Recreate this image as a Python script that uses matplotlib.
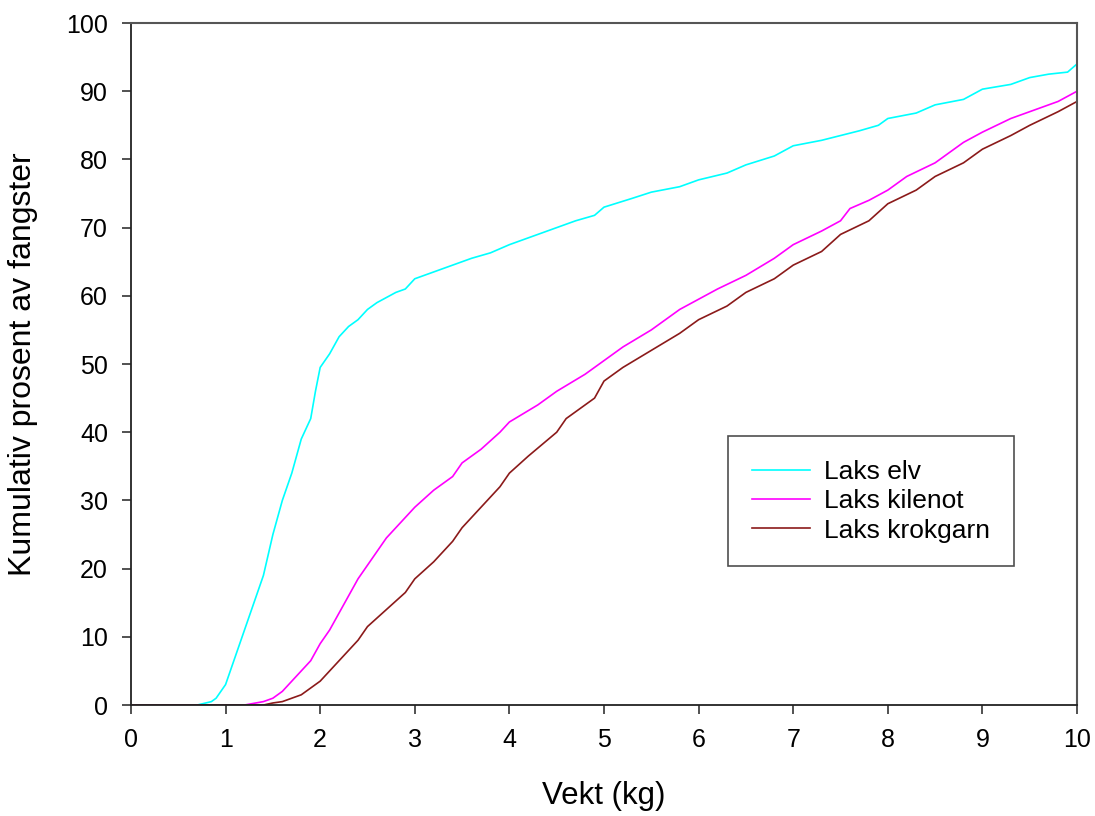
import matplotlib
matplotlib.use("Agg")
import matplotlib.pyplot as plt

plt.rcParams['font.family'] = ['Liberation Sans', 'DejaVu Sans']

# cumulative percent of catches by weight (kg)
elv_kg = [0, 0.7, 0.85, 0.9, 1.0, 1.05, 1.1, 1.2, 1.3, 1.4, 1.5, 1.6, 1.7, 1.8, 1.9,
          1.95, 2.0, 2.1, 2.2, 2.3, 2.4, 2.5, 2.6, 2.8, 2.9, 3.0, 3.2, 3.4, 3.5, 3.6,
          3.8, 4.0, 4.2, 4.5, 4.7, 4.9, 5.0, 5.3, 5.5, 5.8, 6.0, 6.3, 6.5, 6.8, 7.0,
          7.3, 7.5, 7.7, 7.9, 8.0, 8.3, 8.5, 8.8, 9.0, 9.3, 9.5, 9.7, 9.9, 10.0]
elv_pct = [0, 0, 0.5, 1, 3, 5, 7, 11, 15, 19, 25, 30, 34, 39, 42,
           46, 49.5, 51.5, 54, 55.5, 56.5, 58, 59, 60.5, 61, 62.5, 63.5, 64.5, 65, 65.5,
           66.3, 67.5, 68.5, 70, 71, 71.8, 73, 74.3, 75.2, 76, 77, 78, 79.2, 80.5, 82,
           82.8, 83.5, 84.2, 85, 86, 86.8, 88, 88.8, 90.3, 91, 92, 92.5, 92.8, 94]

kilenot_kg = [0, 1.2, 1.4, 1.5, 1.6, 1.7, 1.8, 1.9, 2.0, 2.1, 2.2, 2.3, 2.4, 2.5, 2.6,
              2.7, 2.8, 2.9, 3.0, 3.2, 3.4, 3.5, 3.7, 3.9, 4.0, 4.3, 4.5, 4.8, 5.0, 5.2,
              5.5, 5.8, 6.0, 6.2, 6.5, 6.8, 7.0, 7.3, 7.5, 7.6, 7.8, 8.0, 8.2, 8.5, 8.8,
              9.0, 9.3, 9.5, 9.8, 10.0]
kilenot_pct = [0, 0, 0.5, 1, 2, 3.5, 5, 6.5, 9, 11, 13.5, 16, 18.5, 20.5, 22.5,
               24.5, 26, 27.5, 29, 31.5, 33.5, 35.5, 37.5, 40, 41.5, 44, 46, 48.5, 50.5, 52.5,
               55, 58, 59.5, 61, 63, 65.5, 67.5, 69.5, 71, 72.8, 74, 75.5, 77.5, 79.5, 82.5,
               84, 86, 87, 88.5, 90]

krokgarn_kg = [0, 1.4, 1.5, 1.6, 1.7, 1.8, 1.9, 2.0, 2.1, 2.2, 2.3, 2.4, 2.5, 2.7, 2.9,
               3.0, 3.2, 3.4, 3.5, 3.7, 3.9, 4.0, 4.2, 4.5, 4.6, 4.9, 5.0, 5.2, 5.5, 5.8,
               6.0, 6.3, 6.5, 6.8, 7.0, 7.3, 7.5, 7.8, 8.0, 8.3, 8.5, 8.8, 9.0, 9.3, 9.5,
               9.8, 10.0]
krokgarn_pct = [0, 0, 0.3, 0.5, 1, 1.5, 2.5, 3.5, 5, 6.5, 8, 9.5, 11.5, 14, 16.5,
                18.5, 21, 24, 26, 29, 32, 34, 36.5, 40, 42, 45, 47.5, 49.5, 52, 54.5,
                56.5, 58.5, 60.5, 62.5, 64.5, 66.5, 69, 71, 73.5, 75.5, 77.5, 79.5, 81.5, 83.5, 85,
                87, 88.5]

x_ticks = list(range(0, 11))
y_ticks = list(range(0, 101, 10))

fig = plt.figure(figsize=(10.95, 8.16), dpi=100)
ax = fig.add_axes([0.1196, 0.136, 0.864, 0.8358])

ax.plot(elv_kg, elv_pct, color='#00ffff', lw=1.2, label='Laks elv')
ax.plot(kilenot_kg, kilenot_pct, color='#ff00ff', lw=1.2, label='Laks kilenot')
ax.plot(krokgarn_kg, krokgarn_pct, color='#8b1a1a', lw=1.2, label='Laks krokgarn')

ax.set_xlim(0, 10)
ax.set_ylim(0, 100)
ax.set_xticks(x_ticks)
ax.set_yticks(y_ticks)
ax.tick_params(direction='out', length=6.5, width=1.2, labelsize=18, color='#333333', pad=10)

for side in ['top', 'right']:
    ax.spines[side].set_color('#555555')
    ax.spines[side].set_linewidth(1.5)
for side in ['left', 'bottom']:
    ax.spines[side].set_color('#222222')
    ax.spines[side].set_linewidth(1.3)

ax.set_xlabel('Vekt (kg)', fontsize=22.5, va='center')
ax.xaxis.set_label_coords(0.5, -0.1334)
ax.set_ylabel('Kumulativ prosent av fangster', fontsize=23, va='center')
ax.yaxis.set_label_coords(-0.114, 0.5)

leg = ax.legend(loc='upper left', bbox_to_anchor=(0.631, 0.394), fontsize=19,
                frameon=True, fancybox=False, edgecolor='#222222',
                handlelength=2.2, handletextpad=0.55, borderpad=0.9,
                labelspacing=0.2, borderaxespad=0)
leg.get_frame().set_linewidth(1.2)

fig.savefig('out.png', dpi=100)
